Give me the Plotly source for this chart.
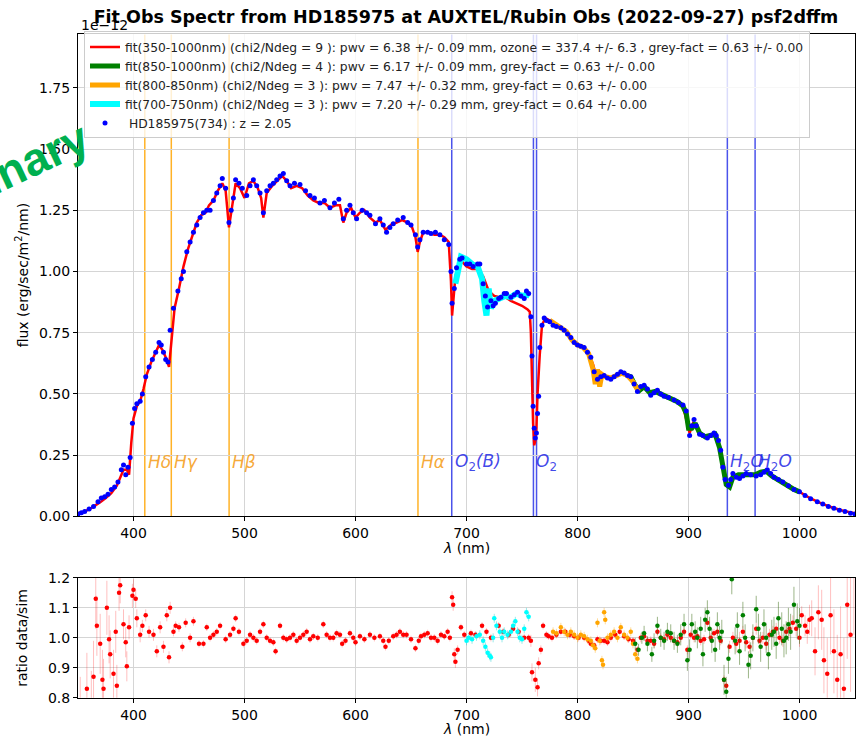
import plotly.graph_objects as go

# ---------------- observed spectrum (flux in units of 1e-12 erg/sec/m2/nm) ----------------
obs_wl = [350, 353, 356, 360, 364, 368, 371, 374, 377, 380, 383, 386, 389, 391, 393, 395, 397, 399,
          401, 403, 406, 408, 411, 414, 417, 420, 423, 425, 427, 429, 431, 433, 436, 440, 443, 445,
          448, 451, 454, 457, 460, 463, 466, 469, 472, 475, 478, 480, 483, 486, 488, 490, 492, 495,
          498, 502, 505, 508, 511, 514, 517, 520, 523, 526, 529, 532, 535, 538, 541, 545, 550, 555,
          559, 563, 568, 572, 577, 581, 585, 589, 592, 595, 598, 601, 606, 610, 613, 618, 622, 625,
          628, 631, 634, 638, 643, 647, 650, 654, 656, 658, 661, 665, 668, 672, 676, 680, 684, 686,
          687, 689, 691, 694, 696, 700, 703, 706, 710, 712, 715, 717, 719, 722, 724, 726, 729, 731,
          734, 736, 740, 743, 746, 749, 752, 754, 756, 758, 759, 760, 761, 762, 763, 764, 765, 766,
          768, 770, 772, 775, 778, 781, 785, 788, 791, 794, 797, 800, 803, 806, 809, 812, 815, 818,
          821, 824, 827, 830, 833, 836, 839, 842, 845, 848, 851, 854, 857, 860, 863, 866, 869, 872,
          875, 878, 882, 887, 891, 895, 898, 901, 903, 905, 907, 910, 913, 917, 920, 923, 925, 927,
          929, 931, 933, 936, 938, 940, 943, 946, 949, 952, 956, 961, 965, 968, 971, 974, 977, 981,
          985, 990, 995, 1000, 1005, 1010, 1016, 1021, 1026, 1031, 1036, 1041, 1046, 1050]
obs_flux = [0.010, 0.015, 0.020, 0.030, 0.040, 0.060, 0.075, 0.080, 0.090, 0.110, 0.120, 0.140, 0.190,
            0.210, 0.170, 0.200, 0.240, 0.380, 0.440, 0.460, 0.470, 0.500, 0.570, 0.610, 0.640, 0.670,
            0.710, 0.700, 0.670, 0.640, 0.630, 0.760, 0.850, 0.920, 0.970, 1.000, 1.080, 1.120, 1.160,
            1.190, 1.220, 1.240, 1.250, 1.250, 1.290, 1.320, 1.350, 1.380, 1.340, 1.200, 1.250, 1.300,
            1.375, 1.360, 1.340, 1.310, 1.350, 1.375, 1.350, 1.320, 1.240, 1.330, 1.350, 1.360, 1.375,
            1.390, 1.400, 1.370, 1.350, 1.360, 1.355, 1.330, 1.310, 1.300, 1.280, 1.290, 1.260, 1.280,
            1.295, 1.215, 1.250, 1.270, 1.240, 1.215, 1.250, 1.240, 1.230, 1.195, 1.215, 1.190, 1.160,
            1.180, 1.195, 1.210, 1.220, 1.200, 1.190, 1.150, 1.100, 1.130, 1.160, 1.160, 1.155, 1.160,
            1.150, 1.130, 1.110, 1.000, 0.870, 0.930, 1.015, 1.050, 1.055, 1.030, 1.030, 1.020, 1.030,
            1.030, 0.950, 0.900, 0.855, 0.880, 0.860, 0.870, 0.890, 0.895, 0.910, 0.910, 0.895, 0.905,
            0.915, 0.900, 0.890, 0.920, 0.910, 0.815, 0.655, 0.450, 0.360, 0.320, 0.340, 0.420, 0.490,
            0.690, 0.780, 0.810, 0.800, 0.795, 0.780, 0.775, 0.770, 0.760, 0.745, 0.730, 0.710, 0.700,
            0.695, 0.690, 0.670, 0.650, 0.590, 0.560, 0.570, 0.575, 0.565, 0.560, 0.570, 0.580, 0.590,
            0.585, 0.575, 0.570, 0.540, 0.510, 0.530, 0.535, 0.520, 0.495, 0.505, 0.515, 0.500, 0.490,
            0.485, 0.475, 0.465, 0.455, 0.430, 0.330, 0.370, 0.395, 0.370, 0.335, 0.330, 0.320, 0.330,
            0.340, 0.330, 0.310, 0.270, 0.200, 0.150, 0.127, 0.150, 0.175, 0.160, 0.155, 0.165, 0.175,
            0.170, 0.165, 0.170, 0.180, 0.190, 0.175, 0.160, 0.150, 0.140, 0.125, 0.110, 0.100, 0.085,
            0.072, 0.060, 0.050, 0.040, 0.033, 0.025, 0.020, 0.013, 0.010]

# ---------------- atmospheric fits ----------------
fit_all_wl = [350, 355, 360, 365, 370, 375, 380, 385, 388, 391, 394, 396, 398, 400, 403, 406, 409, 412,
              416, 420, 423, 426, 429, 432, 434, 437, 441, 445, 449, 453, 457, 461, 465, 468, 472, 476,
              480, 483, 486, 489, 492, 496, 500, 504, 508, 512, 515, 517, 520, 525, 530, 534, 538, 542,
              547, 552, 557, 562, 567, 572, 577, 582, 586, 589, 592, 596, 600, 604, 608, 613, 618, 622,
              627, 632, 637, 642, 647, 651, 654, 656, 658, 661, 666, 671, 676, 680, 684, 686, 687, 688,
              690, 693, 696, 700, 705, 710, 715, 720, 725, 730, 735, 740, 745, 750, 755, 757, 758, 759,
              760, 761, 762, 763, 764, 766, 768, 771, 775, 780, 785, 790, 795, 800, 805, 810, 814, 817,
              820, 825, 830, 835, 840, 845, 850, 854, 858, 862, 866, 870, 875, 880, 885, 890, 895, 898,
              901, 904, 907, 910, 915, 920, 924, 928, 931, 934, 937, 940, 945, 950, 955, 960, 965, 970,
              975, 980, 985, 990, 995, 1000, 1010, 1020, 1030, 1040, 1050]
fit_all_flux = [0.012, 0.018, 0.028, 0.042, 0.058, 0.075, 0.095, 0.125, 0.160, 0.190, 0.190, 0.170, 0.300,
                0.400, 0.450, 0.470, 0.520, 0.580, 0.630, 0.670, 0.700, 0.680, 0.650, 0.610, 0.720, 0.850,
                0.930, 1.020, 1.090, 1.150, 1.200, 1.230, 1.240, 1.270, 1.290, 1.330, 1.360, 1.330, 1.180,
                1.270, 1.360, 1.340, 1.300, 1.360, 1.370, 1.340, 1.300, 1.220, 1.320, 1.350, 1.370, 1.390,
                1.370, 1.340, 1.350, 1.340, 1.310, 1.290, 1.280, 1.280, 1.260, 1.270, 1.270, 1.200, 1.240,
                1.260, 1.220, 1.240, 1.250, 1.220, 1.200, 1.210, 1.170, 1.190, 1.200, 1.210, 1.200, 1.180,
                1.140, 1.080, 1.120, 1.160, 1.160, 1.150, 1.150, 1.140, 1.120, 0.960, 0.820, 0.880, 0.980,
                1.030, 1.040, 1.020, 1.010, 1.010, 0.980, 0.920, 0.900, 0.895, 0.895, 0.880, 0.870, 0.860,
                0.845, 0.835, 0.750, 0.550, 0.380, 0.290, 0.310, 0.360, 0.500, 0.660, 0.780, 0.810, 0.800,
                0.780, 0.770, 0.750, 0.725, 0.705, 0.690, 0.665, 0.620, 0.570, 0.565, 0.570, 0.565, 0.575,
                0.585, 0.575, 0.545, 0.515, 0.525, 0.520, 0.500, 0.510, 0.500, 0.485, 0.478, 0.468, 0.450,
                0.400, 0.340, 0.380, 0.370, 0.335, 0.325, 0.330, 0.335, 0.290, 0.200, 0.130, 0.130, 0.170,
                0.160, 0.170, 0.170, 0.165, 0.175, 0.185, 0.165, 0.150, 0.140, 0.125, 0.112, 0.100, 0.073,
                0.052, 0.035, 0.022, 0.012]

fit_ir_wl = [845, 848, 852, 856, 860, 865, 870, 875, 880, 885, 890, 895, 898, 900, 903, 906, 910, 915,
             920, 924, 928, 931, 934, 937, 940, 945, 950, 955, 960, 965, 970, 975, 980, 985, 990, 995,
             1000]
fit_ir_flux = [0.575, 0.570, 0.535, 0.515, 0.530, 0.505, 0.510, 0.500, 0.485, 0.478, 0.468, 0.450, 0.420,
               0.360, 0.360, 0.380, 0.340, 0.325, 0.330, 0.335, 0.280, 0.190, 0.130, 0.120, 0.160, 0.170,
               0.170, 0.175, 0.170, 0.180, 0.185, 0.165, 0.150, 0.140, 0.125, 0.110, 0.100]

fit_mid_wl = [775, 778, 785, 790, 795, 800, 805, 810, 814, 816, 818, 820, 822, 825, 830, 835, 840, 845,
              850, 855]
fit_mid_flux = [0.800, 0.790, 0.770, 0.755, 0.720, 0.700, 0.690, 0.665, 0.600, 0.540, 0.600, 0.530, 0.580,
                0.570, 0.565, 0.575, 0.585, 0.575, 0.550, 0.510]

fit_vis_wl = [690, 693, 695, 700, 705, 710, 714, 716, 718, 720, 722, 725, 730, 735, 740, 745, 750, 755, 757]
fit_vis_flux = [0.950, 1.030, 1.060, 1.050, 1.030, 1.020, 0.970, 0.880, 0.820, 0.930, 0.850, 0.880, 0.890,
                0.900, 0.895, 0.910, 0.900, 0.905, 0.900]

# ---------------- ratio data / simulation ----------------
ratio_all_wl = [352, 358, 362, 364, 366, 367, 370, 372, 373, 376, 378, 379, 382, 384, 385, 387, 388, 391,
                393, 394, 396, 399, 400, 402, 403, 406, 408, 411, 414, 418, 421, 424, 427, 430, 432, 433,
                436, 438, 441, 444, 447, 451, 454, 459, 463, 466, 469, 472, 475, 478, 483, 487, 490, 492,
                495, 499, 502, 505, 508, 511, 514, 517, 520, 523, 526, 528, 532, 535, 538, 541, 544, 547,
                550, 553, 556, 559, 562, 566, 571, 574, 577, 580, 583, 586, 588, 591, 595, 598, 600, 604,
                608, 613, 617, 622, 625, 627, 630, 634, 637, 640, 643, 646, 650, 654, 657, 659, 662, 665,
                668, 671, 674, 677, 680, 683, 685, 687, 688, 689, 690, 692, 695, 698, 704, 708, 714, 718,
                722, 729, 733, 738, 742, 747, 752, 756, 758, 759, 762, 764, 765, 767, 769, 772, 774, 777,
                781, 785, 789, 793, 797, 801, 806, 810, 812, 815, 818, 821, 824, 827, 830, 834, 838, 842,
                846, 850, 854, 857, 860, 863, 866, 869, 872, 875, 878, 881, 884, 887, 890, 893, 896, 899,
                902, 905, 908, 911, 914, 917, 920, 923, 926, 929, 932, 934, 937, 940, 943, 946, 949, 952,
                955, 958, 961, 964, 967, 970, 973, 976, 979, 982, 985, 988, 991, 994, 997, 1000, 1002,
                1005, 1007, 1009, 1011, 1014, 1017, 1020, 1022, 1025, 1028, 1031, 1034, 1037, 1040, 1043,
                1046, 1049]
ratio_all = [0.72, 0.83, 0.74, 0.87, 1.13, 1.04, 0.98, 0.86, 0.83, 1.10, 0.995, 0.945, 0.88, 1.02, 0.84,
             1.15, 1.175, 1.045, 0.985, 0.905, 1.035, 1.14, 1.16, 1.13, 1.065, 1.01, 1.04, 1.075, 1.02,
             1.01, 0.955, 1.035, 0.97, 1.075, 0.935, 1.10, 1.02, 1.04, 1.035, 0.97, 1.05, 1.00, 1.055,
             0.98, 0.98, 1.035, 1.00, 1.01, 1.02, 1.04, 0.995, 1.01, 1.03, 1.065, 1.02, 0.98, 0.99, 1.01,
             1.00, 0.99, 1.02, 1.045, 1.00, 0.99, 0.985, 0.955, 1.04, 1.00, 0.995, 1.00, 1.01, 0.99, 1.00,
             1.01, 1.02, 0.995, 1.005, 1.00, 1.045, 1.01, 1.00, 1.00, 1.015, 1.01, 0.98, 0.99, 1.015,
             1.00, 0.985, 1.005, 0.995, 1.01, 1.00, 1.005, 0.99, 0.97, 0.99, 1.005, 1.01, 1.02, 1.01,
             1.01, 0.995, 0.965, 0.99, 1.005, 1.01, 1.015, 1.00, 1.00, 0.99, 1.01, 1.005, 1.02, 1.00,
             1.135, 1.11, 0.945, 0.92, 0.96, 1.035, 1.01, 1.015, 1.01, 1.04, 1.02, 1.00, 1.04, 1.02,
             1.01, 1.03, 1.02, 1.00, 1.00, 0.99, 0.885, 0.86, 0.835, 0.915, 0.96, 1.04, 1.01, 1.005,
             1.00, 1.01, 1.02, 1.02, 1.01, 1.005, 1.00, 1.00, 0.99, 0.98, 0.975, 0.995, 0.99, 0.99, 0.985,
             1.00, 1.01, 1.02, 1.005, 0.995, 0.99, 0.96, 1.00, 1.005, 0.99, 0.99, 0.98, 1.02, 1.00, 0.995,
             1.01, 1.00, 0.99, 0.985, 1.00, 1.02, 0.96, 1.01, 1.00, 1.005, 0.99, 0.995, 1.05, 1.00, 1.015,
             1.02, 0.99, 0.86, 0.84, 0.97, 1.00, 0.98, 0.99, 1.02, 0.985, 0.97, 1.00, 1.03, 0.99, 1.00,
             0.98, 1.01, 1.02, 1.03, 1.00, 0.99, 1.02, 1.03, 1.05, 1.03, 1.00, 1.075, 1.04, 1.02, 1.06,
             1.065, 0.955, 1.085, 1.06, 0.925, 0.88, 1.075, 0.955, 0.86, 0.945, 0.83, 1.11, 1.01, 1.21]
ratio_all_err = [0.15, 0.12, 0.15, 0.12, 0.10, 0.10, 0.10, 0.10, 0.10, 0.09, 0.08, 0.08, 0.08, 0.07, 0.07,
                 0.06, 0.06, 0.05, 0.05, 0.05, 0.04, 0.04, 0.035, 0.03, 0.03, 0.025, 0.02, 0.02, 0.02,
                 0.02, 0.02, 0.02, 0.02, 0.02, 0.02, 0.02, 0.015, 0.015, 0.015, 0.015, 0.015, 0.015, 0.015,
                 0.012, 0.012, 0.012, 0.012, 0.012, 0.012, 0.012, 0.012, 0.012, 0.012, 0.012, 0.012, 0.012,
                 0.012, 0.012, 0.012, 0.012, 0.012, 0.012, 0.012, 0.012, 0.012, 0.012, 0.012, 0.012, 0.012,
                 0.012, 0.012, 0.012, 0.012, 0.012, 0.012, 0.012, 0.012, 0.012, 0.012, 0.012, 0.012, 0.012,
                 0.012, 0.012, 0.012, 0.012, 0.012, 0.012, 0.012, 0.012, 0.012, 0.012, 0.012, 0.012, 0.012,
                 0.012, 0.012, 0.012, 0.012, 0.012, 0.012, 0.012, 0.012, 0.012, 0.012, 0.012, 0.012, 0.012,
                 0.012, 0.012, 0.012, 0.012, 0.012, 0.012, 0.012, 0.02, 0.02, 0.02, 0.02, 0.015, 0.012,
                 0.012, 0.012, 0.012, 0.012, 0.012, 0.012, 0.012, 0.012, 0.012, 0.012, 0.012, 0.012, 0.012,
                 0.02, 0.03, 0.04, 0.03, 0.02, 0.015, 0.012, 0.012, 0.012, 0.012, 0.012, 0.012, 0.012,
                 0.012, 0.012, 0.012, 0.012, 0.012, 0.012, 0.012, 0.012, 0.012, 0.012, 0.012, 0.012,
                 0.012, 0.012, 0.012, 0.012, 0.012, 0.012, 0.015, 0.015, 0.015, 0.015, 0.015, 0.015,
                 0.015, 0.015, 0.015, 0.015, 0.015, 0.015, 0.015, 0.015, 0.015, 0.015, 0.015, 0.015,
                 0.015, 0.015, 0.015, 0.015, 0.015, 0.015, 0.015, 0.015, 0.015, 0.02, 0.02, 0.03, 0.03,
                 0.02, 0.02, 0.02, 0.02, 0.02, 0.02, 0.02, 0.02, 0.02, 0.02, 0.02, 0.02, 0.02, 0.025,
                 0.025, 0.025, 0.025, 0.03, 0.03, 0.035, 0.04, 0.05, 0.06, 0.08, 0.09, 0.10, 0.11, 0.12,
                 0.13, 0.14, 0.15, 0.16, 0.17, 0.18, 0.19, 0.20, 0.21, 0.22, 0.23, 0.24, 0.25, 0.26]

ratio_vis_wl = [700, 702, 705, 709, 712, 715, 717, 719, 721, 722, 724, 725, 727, 730, 732, 734, 737, 740,
                742, 744, 746, 748, 750, 752, 754, 756]
ratio_vis = [0.99, 1.00, 0.995, 1.005, 1.01, 0.99, 0.97, 0.95, 0.94, 0.935, 1.00, 1.065, 1.04, 1.02,
             1.00, 1.02, 1.01, 1.02, 1.04, 1.055, 1.02, 1.00, 0.995, 1.03, 1.085, 1.07]
ratio_vis_err = [0.015] * len(ratio_vis_wl)

ratio_mid_wl = [778, 781, 785, 788, 791, 794, 797, 800, 803, 806, 809, 812, 814, 816, 818, 820, 822, 823,
                824, 825, 827, 830, 833, 836, 839, 842, 845, 848, 850, 852, 854]
ratio_mid = [1.02, 1.015, 1.035, 1.02, 1.01, 1.02, 1.01, 1.00, 1.01, 1.005, 0.995, 0.99, 0.975, 0.965,
             1.05, 0.99, 0.925, 0.91, 1.085, 1.06, 1.00, 1.01, 1.02, 1.00, 1.035, 1.01, 1.00, 1.02, 0.98,
             0.945, 0.93]
ratio_mid_err = [0.015] * len(ratio_mid_wl)

ratio_ir_wl = [852, 855, 858, 860, 863, 867, 869, 872, 875, 878, 881, 884, 887, 890, 893, 896, 899, 901,
               903, 906, 908, 911, 913, 915, 917, 919, 921, 924, 926, 928, 930, 932, 934, 936, 939, 942,
               944, 946, 949, 951, 954, 956, 958, 961, 963, 965, 968, 970, 972, 975, 977, 979, 981, 984,
               986, 988, 990, 992, 995, 998, 1000]
ratio_ir = [0.98, 0.96, 1.00, 1.015, 0.98, 0.945, 0.99, 1.04, 1.00, 0.99, 1.02, 1.015, 0.99, 0.98, 1.01,
            1.045, 0.925, 0.96, 1.045, 1.02, 1.00, 1.03, 0.945, 1.06, 1.085, 1.03, 0.99, 0.96, 1.045,
            1.00, 1.02, 0.86, 0.82, 0.93, 1.195, 0.99, 1.04, 0.955, 1.075, 1.00, 0.91, 0.94, 1.00, 1.095,
            1.03, 0.97, 1.045, 1.00, 0.945, 1.01, 1.02, 0.98, 1.065, 1.03, 0.99, 1.00, 1.045, 1.02, 1.11,
            1.055, 1.04]
ratio_ir_err = [0.02, 0.02, 0.02, 0.025, 0.025, 0.025, 0.025, 0.03, 0.03, 0.03, 0.03, 0.03, 0.03, 0.03,
                0.035, 0.035, 0.035, 0.035, 0.035, 0.035, 0.035, 0.04, 0.04, 0.04, 0.04, 0.04, 0.04, 0.04,
                0.04, 0.04, 0.04, 0.05, 0.05, 0.05, 0.05, 0.045, 0.045, 0.045, 0.045, 0.045, 0.045, 0.045,
                0.045, 0.045, 0.05, 0.05, 0.05, 0.05, 0.05, 0.05, 0.05, 0.05, 0.055, 0.055, 0.055, 0.055,
                0.055, 0.06, 0.06, 0.06, 0.06]

# ---------------- spectral line markers ----------------
balmer_wl = [410.17, 434.05, 486.13, 656.28]
balmer_lbl = ["<i>Hδ</i>", "<i>Hγ</i>", "<i>Hβ</i>", "<i>Hα</i>"]
atmo_wl = [686.7, 760.3, 763.1, 935.0, 960.0]
atmo_lbl = ["<i>O</i><sub>2</sub><i>(B)</i>", "<i>O</i><sub>2</sub>", "", "<i>H</i><sub>2</sub><i>O</i>",
            "<i>H</i><sub>2</sub><i>O</i>"]

legend_txt = [
    "fit(350-1000nm) (chi2/Ndeg = 9 ): pwv = 6.38 +/- 0.09 mm, ozone = 337.4 +/- 6.3 , grey-fact = 0.63 +/- 0.00",
    "fit(850-1000nm) (chi2/Ndeg = 4 ): pwv = 6.17 +/- 0.09 mm, grey-fact = 0.63 +/- 0.00",
    "fit(800-850nm) (chi2/Ndeg = 3 ): pwv = 7.47 +/- 0.32 mm, grey-fact = 0.63 +/- 0.00",
    "fit(700-750nm) (chi2/Ndeg = 3 ): pwv = 7.20 +/- 0.29 mm, grey-fact = 0.64 +/- 0.00",
    " HD185975(734) : z = 2.05",
]

RED, GREEN, ORANGE, CYAN, BLUE = "#ff0000", "#008000", "#ffa500", "#00ffff", "#0000ff"
FONT = "DejaVu Sans"

fig = go.Figure()

# fits on the top panel
fig.add_trace(go.Scatter(x=fit_all_wl, y=fit_all_flux, mode="lines", line=dict(color=RED, width=2.5),
                         name=legend_txt[0], xaxis="x", yaxis="y"))
fig.add_trace(go.Scatter(x=fit_ir_wl, y=fit_ir_flux, mode="lines", line=dict(color=GREEN, width=5),
                         name=legend_txt[1], xaxis="x", yaxis="y"))
fig.add_trace(go.Scatter(x=fit_mid_wl, y=fit_mid_flux, mode="lines", line=dict(color=ORANGE, width=5),
                         name=legend_txt[2], xaxis="x", yaxis="y"))
fig.add_trace(go.Scatter(x=fit_vis_wl, y=fit_vis_flux, mode="lines", line=dict(color=CYAN, width=6),
                         name=legend_txt[3], xaxis="x", yaxis="y"))
fig.add_trace(go.Scatter(x=obs_wl, y=obs_flux, mode="markers", marker=dict(color=BLUE, size=5),
                         name=legend_txt[4], xaxis="x", yaxis="y"))

# ratio panel
for wl, rv, er, col, ecol in [
    (ratio_all_wl, ratio_all, ratio_all_err, RED, "rgba(255,0,0,0.25)"),
    (ratio_vis_wl, ratio_vis, ratio_vis_err, CYAN, "rgba(0,200,200,0.4)"),
    (ratio_mid_wl, ratio_mid, ratio_mid_err, ORANGE, "rgba(255,165,0,0.4)"),
    (ratio_ir_wl, ratio_ir, ratio_ir_err, GREEN, "rgba(60,110,20,0.5)"),
]:
    fig.add_trace(go.Scatter(x=wl, y=rv, mode="markers", marker=dict(color=col, size=4.5),
                             error_y=dict(type="data", array=er, color=ecol, thickness=1, width=0),
                             showlegend=False, xaxis="x2", yaxis="y2"))

shapes = []
annotations = []
for wl, lbl in zip(balmer_wl, balmer_lbl):
    shapes.append(dict(type="line", xref="x", yref="y domain", x0=wl, x1=wl, y0=0, y1=1,
                       line=dict(color="rgba(255,165,0,0.85)", width=1.5), layer="below"))
    annotations.append(dict(x=wl, y=0.22, xref="x", yref="y", text=lbl, showarrow=False,
                            xanchor="left", yanchor="middle", xshift=1,
                            font=dict(family=FONT, size=17, color="rgba(245,160,30,0.9)")))
for wl, lbl in zip(atmo_wl, atmo_lbl):
    shapes.append(dict(type="line", xref="x", yref="y domain", x0=wl, x1=wl, y0=0, y1=1,
                       line=dict(color="rgba(30,40,230,0.8)", width=1.5), layer="below"))
    if lbl:
        annotations.append(dict(x=wl, y=0.22, xref="x", yref="y", text=lbl, showarrow=False,
                                xanchor="left", yanchor="middle", xshift=1,
                                font=dict(family=FONT, size=17, color="rgba(30,40,230,0.85)")))

# axis titles, offset label, watermark
annotations += [
    dict(x=22 / 856, y=0.6333, xref="paper", yref="paper", text="flux (erg/sec/m<sup>2</sup>/nm)",
         textangle=-90, showarrow=False, xanchor="center", yanchor="middle",
         font=dict(family=FONT, size=14, color="black")),
    dict(x=22 / 856, y=0.136, xref="paper", yref="paper", text="ratio data/sim",
         textangle=-90, showarrow=False, xanchor="center", yanchor="middle",
         font=dict(family=FONT, size=14, color="black")),
    dict(x=466 / 856, y=1 - 552 / 745, xref="paper", yref="paper", text="<i>λ</i> (nm)",
         showarrow=False, xanchor="center", yanchor="middle", font=dict(family=FONT, size=14, color="black")),
    dict(x=466 / 856, y=1 - 737 / 745, xref="paper", yref="paper", text="<i>λ</i> (nm)",
         showarrow=False, xanchor="center", yanchor="middle", font=dict(family=FONT, size=14, color="black")),
    dict(x=79 / 856, y=1 - 17 / 745, xref="paper", yref="paper", text="1e−12",
         showarrow=False, xanchor="left", yanchor="middle", font=dict(family=FONT, size=14, color="black")),
    dict(x=-28 / 856, y=1 - 184 / 745, xref="paper", yref="paper", text="Preliminary",
         textangle=-25, showarrow=False, xanchor="center", yanchor="middle",
         font=dict(family="Liberation Sans", size=46, color="#00b050", weight="bold")),
]

axis_common = dict(showline=True, mirror=True, linecolor="black", linewidth=1, ticks="outside",
                   ticklen=4, tickcolor="black", showgrid=True, gridcolor="#d5d5d5", gridwidth=1,
                   zeroline=False, tickfont=dict(family=FONT, size=14, color="black"))

fig.update_layout(
    width=856, height=745,
    margin=dict(l=0, r=0, t=0, b=0),
    paper_bgcolor="white", plot_bgcolor="white",
    font=dict(family=FONT, size=14, color="black"),
    title=dict(text="<b>Fit Obs Spectr from HD185975 at AUXTEL/Rubin Obs (2022-09-27) psf2dffm</b>",
               x=466 / 856, xanchor="center", xref="paper", y=1 - 17 / 745, yanchor="middle",
               font=dict(family=FONT, size=17.5, color="black")),
    xaxis=dict(domain=[78 / 856, 855 / 856], range=[350, 1050], tickvals=[400, 500, 600, 700, 800, 900, 1000],
               anchor="y", **axis_common),
    yaxis=dict(domain=[1 - 519.5 / 745, 1 - 27 / 745], range=[0, 1.968],
               tickvals=[0, 0.25, 0.5, 0.75, 1.0, 1.25, 1.5, 1.75], tickformat=".2f", anchor="x",
               **axis_common),
    xaxis2=dict(domain=[78 / 856, 855 / 856], range=[350, 1050], tickvals=[400, 500, 600, 700, 800, 900, 1000],
                anchor="y2", **axis_common),
    yaxis2=dict(domain=[1 - 705 / 745, 1 - 582.3 / 745], range=[0.8, 1.2],
                tickvals=[0.8, 0.9, 1.0, 1.1, 1.2], tickformat=".1f", anchor="x2", **axis_common),
    legend=dict(x=84 / 856, y=1 - 24 / 745, xanchor="left", yanchor="top",
                bgcolor="rgba(255,255,255,0.8)", bordercolor="#cccccc", borderwidth=1,
                font=dict(family=FONT, size=12.3, color="#222222"), tracegroupgap=0),
    shapes=shapes,
    annotations=annotations,
)

fig.write_html("out.html")
